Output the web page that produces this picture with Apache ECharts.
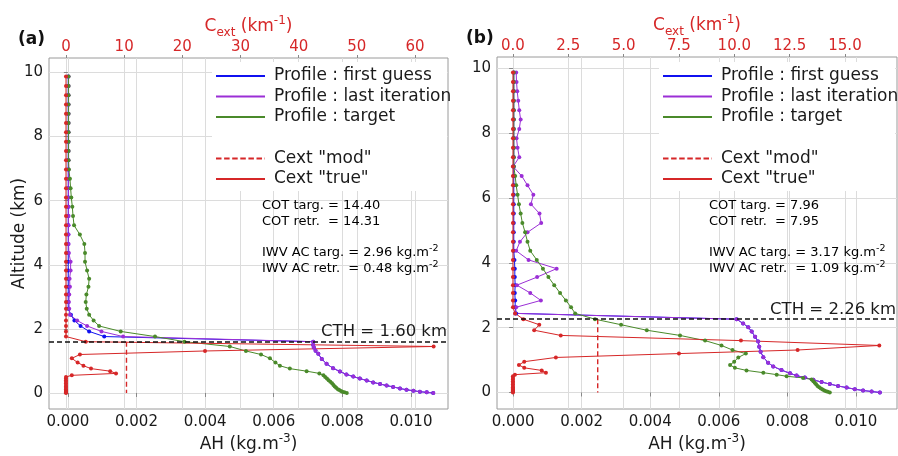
<!DOCTYPE html>
<html><head><meta charset="utf-8">
<script src="https://cdn.jsdelivr.net/npm/echarts@6/dist/echarts.min.js"></script>
<style>html,body{margin:0;padding:0;background:#fff}#c{width:898px;height:456px}</style>
</head><body><div id="c"></div>
<script>
// ---------- DATA ----------
// model levels (km) used by the "true" profiles (target AH, Cext true)
const levels = [9.87,9.58,9.29,9.0,8.71,8.42,8.13,7.84,7.55,7.26,6.97,6.68,6.39,6.1,5.81,5.52,5.23,4.94,4.65,4.37,4.09,3.82,3.56,3.31,3.07,2.84,2.63,2.44,2.26,2.09,1.92,1.76,1.6,1.45,1.31,1.2,1.08,0.95,0.85,0.76,0.68,0.61,0.55,0.5,0.45,0.4,0.35,0.3,0.25,0.2,0.16,0.12,0.09,0.06,0.04,0.02,0];

// ----- panel (a)
const cthA = 1.60;
const cextModA = 10.4;
const targetA = [0.00002,0.00002,0.00002,0.00002,0.00002,0.00002,0.00002,0.00002,0.00002,0.00002,
  0.00003,0.00006,0.00008,0.0001,0.00013,0.00015,0.00018,0.00035,0.00048,0.0005,
  0.0005,0.00056,0.00062,0.0006,0.00054,0.00052,0.00055,0.00062,0.00075,0.00091,
  0.00154,0.00254,0.0034,0.00472,0.00519,0.00563,0.00589,0.00605,0.00618,0.00647,
  0.00696,0.00733,0.00745,0.0075,0.00755,0.0076,0.00765,0.0077,0.00774,0.00778,
  0.00782,0.00787,0.00791,0.00796,0.008,0.00806,0.00813];
const cextTrueA = [0,0,0,0,0,0,0,0,0,0,0,0,0,0,0,0,0,0,0,0,0,0,0,0,0,0,0,0,0,0,0,0,
  3.4,63.2,23.9,2.4,1.0,2.0,3.0,4.3,7.6,8.6,1.0,
  0,0,0,0,0,0,0,0,0,0,0,0,0,0];
// retrieval grid: model levels above cloud, then cloud layers below CTH
const retrAltA = [9.87,9.58,9.29,9.0,8.71,8.42,8.13,7.84,7.55,7.26,6.97,6.68,6.39,6.1,5.81,5.52,5.23,4.94,4.65,4.37,4.09,3.82,3.56,3.31,3.07,2.84,2.63,2.44,2.26,2.09,1.92,1.76,
  1.6,1.5,1.42,1.32,1.22,1.06,0.91,0.77,0.67,0.58,0.51,0.45,0.39,0.33,0.28,0.23,0.19,0.14,0.1,0.07,0.04,0.02,0];
const firstGuessA = [0.00001,0.00001,0.00001,0.00001,0.00001,0.00001,0.00001,0.00001,0.00001,0.00001,
  0.00001,0.00001,0.00001,0.00001,0.00001,0.00001,0.00001,0.00001,0.00001,0.00001,
  0.00001,0.00001,0.00001,0.00001,0.00001,0.00001,0.00001,0.00009,0.00019,0.00037,0.00062,0.00106,
  0.00715,0.00715,0.00717,0.00722,0.0073,0.0074,0.00754,0.00773,0.00793,0.00812,0.00832,0.00851,
  0.00871,0.0089,0.0091,0.00929,0.00948,0.00968,0.00987,0.01007,0.01026,0.01046,0.01065];
const lastIterA = [0.00002,0.00002,0.00002,0.00002,0.00002,0.00002,0.00002,0.00002,0.00002,0.00002,
  0.00002,0.00002,0.00002,0.00002,0.00002,0.00002,0.00002,0.00002,0.00002,0.00003,
  0.00008,0.00008,0.00005,0.00006,0.00004,0.00003,0.00004,0.00006,0.00027,0.00056,0.00098,0.00161,
  0.00715,0.00715,0.00717,0.00722,0.0073,0.0074,0.00754,0.00773,0.00793,0.00812,0.00832,0.00851,
  0.00871,0.0089,0.0091,0.00929,0.00948,0.00968,0.00987,0.01007,0.01026,0.01046,0.01065];

// ----- panel (b)
const cthB = 2.26;
const cextModB = 3.83;
const targetB = [0.00002,0.00002,0.00002,0.00002,0.00002,0.00002,0.00002,0.00002,0.00002,0.00002,
  0.00002,0.00006,0.00009,0.00013,0.00017,0.00022,0.00027,0.00035,0.00042,0.0005,
  0.00069,0.00087,0.00103,0.0012,0.00137,0.00154,0.00169,0.00181,0.00239,0.00315,
  0.0039,0.00487,0.0056,0.00608,0.0064,0.00679,0.00657,0.00645,0.00633,0.00647,
  0.00681,0.0073,0.00769,0.00798,0.00846,0.00871,0.00876,0.0088,0.00884,0.00888,
  0.00893,0.00898,0.00903,0.00908,0.00913,0.00918,0.00924];
const cextTrueB = [0,0,0,0,0,0,0,0,0,0,0,0,0,0,0,0,0,0,0,0,0,0,0,0,0,0,0,
  0.1,0.47,1.19,0.96,2.16,10.3,16.55,12.86,7.5,1.94,0.51,0.27,0.51,1.3,1.49,0.09,
  0,0,0,0,0,0,0,0,0,0,0,0,0,0];
const retrAltB = [9.87,9.58,9.29,9.0,8.71,8.42,8.13,7.84,7.55,7.26,6.97,6.68,6.39,6.1,5.81,5.52,5.23,4.94,4.65,4.37,4.09,3.82,3.56,3.31,3.07,2.84,2.63,2.44,
  2.26,2.13,2.01,1.88,1.72,1.57,1.41,1.26,1.09,0.92,0.8,0.69,0.59,0.52,0.46,0.39,0.32,0.26,0.2,0.15,0.1,0.06,0.03,0];
const firstGuessB = [0.00002,0.00002,0.00002,0.00002,0.00002,0.00002,0.00002,0.00002,0.00002,0.00002,
  0.00002,0.00002,0.00002,0.00002,0.00002,0.00002,0.00002,0.00002,0.00002,0.00002,
  0.00004,0.00005,0.00005,0.00006,0.00005,0.00006,0.00006,0.00009,
  0.00652,0.00671,0.00686,0.00696,0.00706,0.00715,0.00718,0.00722,0.0073,0.00744,0.00759,0.00783,
  0.00808,0.00827,0.00851,0.00876,0.009,0.00924,0.00948,0.00973,0.00997,0.01021,0.01046,0.0107];
const lastIterB = [0.00009,0.0001,0.00012,0.00015,0.00018,0.00022,0.00018,0.0001,0.00013,0.00018,
  0.0,0.00025,0.00042,0.00059,0.00052,0.00077,0.00082,0.00042,0.0002,0.00009,
  0.00045,0.00127,0.0007,0.00011,0.0005,0.00081,0.00009,0.00006,
  0.00652,0.00671,0.00686,0.00696,0.00706,0.00715,0.00718,0.00722,0.0073,0.00744,0.00759,0.00783,
  0.00808,0.00827,0.00851,0.00876,0.009,0.00924,0.00948,0.00973,0.00997,0.01021,0.01046,0.0107];

// tick labels
const ahTicks = [0, 0.002, 0.004, 0.006, 0.008, 0.010];
const altTicks = [0, 2, 4, 6, 8, 10];
const cextTicksA = [0, 10, 20, 30, 40, 50, 60];
const cextTicksB = [0, 2.5, 5.0, 7.5, 10.0, 12.5, 15.0];

// annotation texts
const cotA = ['14.40', '14.31'];
const iwvA = ['2.96', '0.48'];
const cotB = ['7.96', '7.95'];
const iwvB = ['3.17', '1.09'];
const legendNames = ['Profile : first guess', 'Profile : last iteration', 'Profile : target', 'Cext "mod"', 'Cext "true"'];

// ---------- STYLE ----------
const FONT = 'DejaVu Sans';
const C_BLUE = '#1010f0', C_PURP = '#9b2fd6', C_GREEN = '#4a8a2a', C_RED = '#d62728';
const TXT = '#1a1a1a';
const GRIDC = '#dcdcdc';

function pairs(xs, ys) { return xs.map((x, i) => [x, ys[i]]); }

function bottomAxis(gi, min, max) {
  return {
    gridIndex: gi, type: 'value', position: 'bottom', min: min, max: max,
    name: '{t|AH (kg.m}{s|-3}{t|)}', nameLocation: 'middle', nameGap: 24, nameMoveOverlap: false,
    nameTextStyle: { rich: {
      t: { fontFamily: FONT, fontSize: 17, color: TXT, lineHeight: 24 },
      s: { fontFamily: FONT, fontSize: 12, color: TXT, lineHeight: 12, verticalAlign: 'top' } } },
    axisLine: { show: false },
    axisTick: { show: true, length: 4, customValues: ahTicks, lineStyle: { color: '#888' } },
    axisLabel: { customValues: ahTicks, fontFamily: FONT, fontSize: 15, color: TXT, margin: 6,
      formatter: v => v.toFixed(3) },
    splitLine: { show: true, lineStyle: { color: GRIDC, width: 1 } }
  };
}
function topAxis(gi, min, max, ticks, fmt) {
  return {
    gridIndex: gi, type: 'value', position: 'top', min: min, max: max,
    name: '{t|C}{b|ext}{t| (km}{s|-1}{t|)}', nameLocation: 'middle', nameGap: 19, nameMoveOverlap: false,
    nameTextStyle: { rich: {
      t: { fontFamily: FONT, fontSize: 17, color: C_RED, lineHeight: 24 },
      b: { fontFamily: FONT, fontSize: 12, color: C_RED, lineHeight: 12, verticalAlign: 'bottom' },
      s: { fontFamily: FONT, fontSize: 12, color: C_RED, lineHeight: 12, verticalAlign: 'top' } } },
    axisLine: { show: false },
    axisTick: { show: true, length: 3, customValues: ticks, lineStyle: { color: '#888' } },
    axisLabel: { customValues: ticks, fontFamily: FONT, fontSize: 15, color: C_RED, margin: 3, formatter: fmt },
    splitLine: { show: true, lineStyle: { color: GRIDC, width: 1 } }
  };
}
function leftAxis(gi, min, max, withName) {
  return {
    gridIndex: gi, type: 'value', min: min, max: max,
    name: withName ? 'Altitude (km)' : '', nameLocation: 'middle', nameGap: 21, nameMoveOverlap: false,
    nameTextStyle: { fontFamily: FONT, fontSize: 17, color: TXT },
    axisLine: { show: false },
    axisTick: { show: true, length: 4, customValues: altTicks, lineStyle: { color: '#888' } },
    axisLabel: { customValues: altTicks, fontFamily: FONT, fontSize: 15, color: TXT, margin: 6 },
    splitLine: { show: true, lineStyle: { color: GRIDC, width: 1 } }
  };
}

function lineSeries(name, xi, yi, data, color, extra) {
  return Object.assign({
    name: name, type: 'line', xAxisIndex: xi, yAxisIndex: yi, data: data,
    symbol: 'circle', symbolSize: 4, showSymbol: true,
    lineStyle: { color: color, width: 1 }, itemStyle: { color: color },
    emphasis: { disabled: true }, animation: false
  }, extra || {});
}

function panelSeries(p, fg, li, tg, retrAlt, cTrue, cMod, cth) {
  const xb = 2 * p, xt = 2 * p + 1, y = p;
  return [
    lineSeries(legendNames[0], xb, y, pairs(fg, retrAlt), C_BLUE),
    lineSeries(legendNames[1], xb, y, pairs(li, retrAlt), C_PURP),
    lineSeries(legendNames[2], xb, y, pairs(tg, levels), C_GREEN),
    lineSeries(legendNames[3], xt, y, [[cMod, cth], [cMod, 0]], C_RED,
      { showSymbol: false, symbol: 'none', lineStyle: { color: C_RED, width: 1.4, type: [5, 3] } }),
    lineSeries(legendNames[4], xt, y, pairs(cTrue, levels), C_RED, {
      markLine: {
        silent: true, symbol: 'none', animation: false,
        lineStyle: { color: '#111', width: 1.5, type: [5, 3] },
        label: { show: true, position: 'insideEndTop', distance: 1, formatter: 'CTH = ' + cth.toFixed(2) + ' km',
          fontFamily: FONT, fontSize: 16.5, color: TXT },
        data: [{ yAxis: cth }]
      }
    })
  ];
}

// legend + annotations as graphic elements
function legendGraphic(x0, boxX, boxW) {
  const rows = [76, 96.5, 117, 158.5, 179];
  const cols = [C_BLUE, C_PURP, C_GREEN, C_RED, C_RED];
  const els = [{ type: 'rect', shape: { x: boxX, y: 62, width: boxW, height: 129, r: 3 },
    style: { fill: '#fff', stroke: null }, z: 50 }];
  rows.forEach((yy, i) => {
    els.push({ type: 'line', shape: { x1: x0, y1: yy, x2: x0 + 49, y2: yy },
      style: { stroke: cols[i], lineWidth: 1.8, lineDash: i === 3 ? [5.5, 2.6] : null }, z: 51 });
    els.push({ type: 'text', x: x0 + 58, y: yy,
      style: { text: legendNames[i], font: '17px "' + FONT + '"', fill: TXT, verticalAlign: 'middle', textAlign: 'left' }, z: 51 });
  });
  return els;
}
function annotGraphic(x0, cot, iwv) {
  const rich = { t: { fontFamily: FONT, fontSize: 13, color: TXT, lineHeight: 18 },
                 s: { fontFamily: FONT, fontSize: 9.5, color: TXT, lineHeight: 10, verticalAlign: 'top' } };
  const mk = (yy, txt) => ({ type: 'text', x: x0, y: yy, z: 52,
    style: { text: txt, rich: rich, verticalAlign: 'middle', textAlign: 'left' } });
  return [
    mk(206, '{t|COT targ. = ' + cot[0] + '}'),
    mk(222, '{t|COT retr.  = ' + cot[1] + '}'),
    mk(253, '{t|IWV AC targ. = ' + iwv[0] + ' kg.m}{s|-2}'),
    mk(269, '{t|IWV AC retr.  = ' + iwv[1] + ' kg.m}{s|-2}')
  ];
}

const option = {
  backgroundColor: '#fff',
  animation: false,
  grid: [
    { left: 49, top: 58, width: 399, height: 351, show: true, borderColor: '#9a9a9a', borderWidth: 1, backgroundColor: 'transparent', outerBoundsMode: 'none', containLabel: false },
    { left: 497, top: 57, width: 400, height: 352, show: true, borderColor: '#9a9a9a', borderWidth: 1, backgroundColor: 'transparent', outerBoundsMode: 'none', containLabel: false }
  ],
  xAxis: [
    bottomAxis(0, -0.00055, 0.01108),
    topAxis(0, -2.92, 65.67, cextTicksA, v => String(v)),
    bottomAxis(1, -0.00047, 0.0112),
    topAxis(1, -0.72, 17.35, cextTicksB, v => v.toFixed(1))
  ],
  yAxis: [leftAxis(0, -0.5, 10.45, true), leftAxis(1, -0.51, 10.35, false)],
  series: [].concat(
    panelSeries(0, firstGuessA, lastIterA, targetA, retrAltA, cextTrueA, cextModA, cthA),
    panelSeries(1, firstGuessB, lastIterB, targetB, retrAltB, cextTrueB, cextModB, cthB)
  ),
  graphic: [].concat(
    legendGraphic(216, 212, 235),
    legendGraphic(663, 659, 236),
    annotGraphic(262, cotA, iwvA),
    annotGraphic(709, cotB, iwvB),
    [
      { type: 'text', x: 18, y: 40, z: 60, style: { text: '(a)', font: 'bold 17px "' + FONT + '"', fill: '#111', verticalAlign: 'middle' } },
      { type: 'text', x: 466, y: 39, z: 60, style: { text: '(b)', font: 'bold 17px "' + FONT + '"', fill: '#111', verticalAlign: 'middle' } }
    ]
  )
};

const chart = echarts.init(document.getElementById('c'), null, { renderer: 'canvas', width: 898, height: 456 });
chart.setOption(option);
</script>
</body></html>
